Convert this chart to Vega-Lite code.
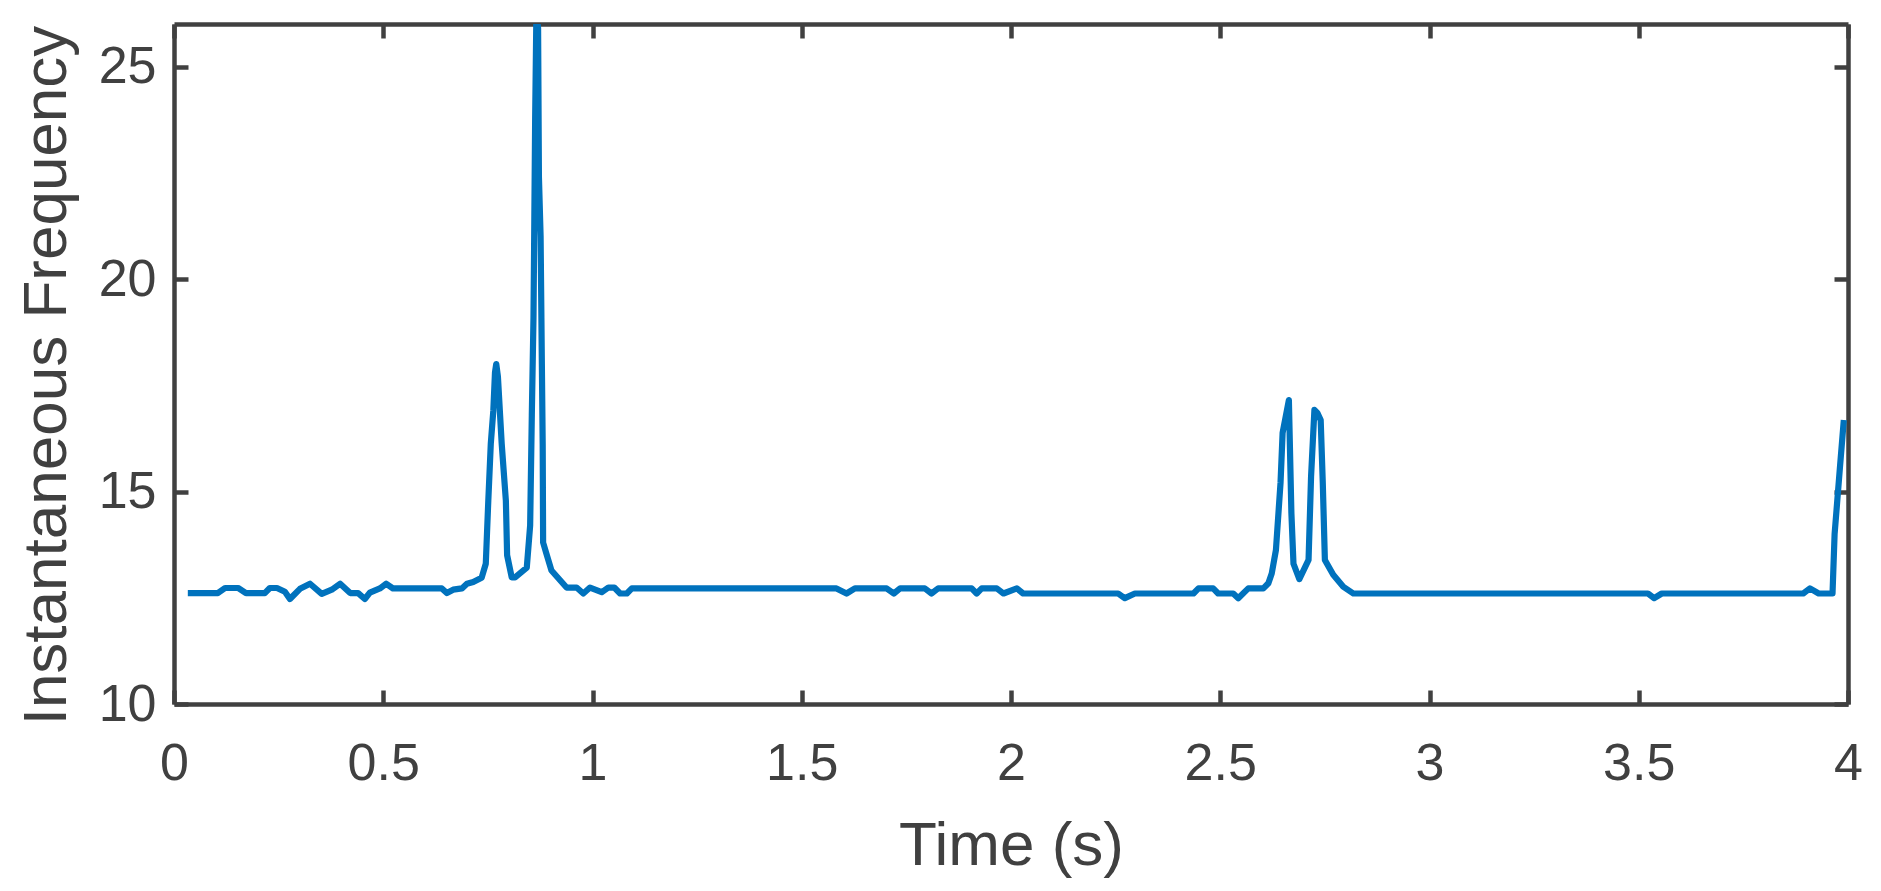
{
  "$schema": "https://vega.github.io/schema/vega-lite/v6.json",
  "autosize": {"type": "none"},
  "padding": {"left": 174, "top": 24, "right": 33, "bottom": 187},
  "width": 1674,
  "height": 680,
  "background": "white",
  "config": {
    "view": {"stroke": null},
    "axis": {
      "domainColor": "#404040",
      "domainWidth": 4.5,
      "tickColor": "#404040",
      "tickWidth": 4.5,
      "tickSize": -14,
      "grid": false,
      "labelFont": "Liberation Sans",
      "labelFontSize": 52,
      "labelColor": "#404040",
      "titleFont": "Liberation Sans",
      "titleFontSize": 62,
      "titleFontWeight": "normal",
      "titleColor": "#404040"
    }
  },
  "data": {
    "values": [
      {"t": 0.033, "f": 12.61}, {"t": 0.105, "f": 12.61}, {"t": 0.122, "f": 12.73}, {"t": 0.153, "f": 12.73},
      {"t": 0.172, "f": 12.61}, {"t": 0.217, "f": 12.61}, {"t": 0.229, "f": 12.73}, {"t": 0.246, "f": 12.73},
      {"t": 0.265, "f": 12.64}, {"t": 0.277, "f": 12.47}, {"t": 0.301, "f": 12.71}, {"t": 0.325, "f": 12.83},
      {"t": 0.353, "f": 12.59}, {"t": 0.377, "f": 12.69}, {"t": 0.397, "f": 12.83}, {"t": 0.421, "f": 12.61},
      {"t": 0.440, "f": 12.61}, {"t": 0.456, "f": 12.47}, {"t": 0.468, "f": 12.62}, {"t": 0.492, "f": 12.72},
      {"t": 0.507, "f": 12.83}, {"t": 0.523, "f": 12.72}, {"t": 0.640, "f": 12.72}, {"t": 0.652, "f": 12.61},
      {"t": 0.667, "f": 12.69}, {"t": 0.688, "f": 12.72}, {"t": 0.700, "f": 12.83}, {"t": 0.715, "f": 12.87},
      {"t": 0.735, "f": 12.97}, {"t": 0.745, "f": 13.3}, {"t": 0.751, "f": 14.78}, {"t": 0.757, "f": 16.13},
      {"t": 0.763, "f": 16.9}, {"t": 0.767, "f": 17.8}, {"t": 0.770, "f": 18.0}, {"t": 0.774, "f": 17.7}, {"t": 0.783, "f": 16.13},
      {"t": 0.793, "f": 14.78}, {"t": 0.796, "f": 13.5}, {"t": 0.807, "f": 12.98}, {"t": 0.815, "f": 12.98},
      {"t": 0.843, "f": 13.21}, {"t": 0.851, "f": 14.2}, {"t": 0.855, "f": 16.8}, {"t": 0.859, "f": 19.1},
      {"t": 0.861, "f": 21.4}, {"t": 0.863, "f": 23.8}, {"t": 0.866, "f": 26.3}, {"t": 0.870, "f": 25.9},
      {"t": 0.872, "f": 22.4}, {"t": 0.876, "f": 21.0}, {"t": 0.879, "f": 18.0}, {"t": 0.881, "f": 16.1},
      {"t": 0.882, "f": 13.8}, {"t": 0.890, "f": 13.53}, {"t": 0.902, "f": 13.14}, {"t": 0.938, "f": 12.74},
      {"t": 0.962, "f": 12.74}, {"t": 0.978, "f": 12.60}, {"t": 0.994, "f": 12.74}, {"t": 1.022, "f": 12.63},
      {"t": 1.038, "f": 12.74}, {"t": 1.052, "f": 12.74}, {"t": 1.066, "f": 12.60}, {"t": 1.082, "f": 12.60},
      {"t": 1.094, "f": 12.72}, {"t": 1.583, "f": 12.72}, {"t": 1.607, "f": 12.60}, {"t": 1.627, "f": 12.72},
      {"t": 1.703, "f": 12.72}, {"t": 1.720, "f": 12.60}, {"t": 1.735, "f": 12.72}, {"t": 1.794, "f": 12.72},
      {"t": 1.810, "f": 12.60}, {"t": 1.826, "f": 12.72}, {"t": 1.906, "f": 12.72}, {"t": 1.918, "f": 12.60},
      {"t": 1.930, "f": 12.72}, {"t": 1.966, "f": 12.72}, {"t": 1.982, "f": 12.60}, {"t": 2.014, "f": 12.72},
      {"t": 2.029, "f": 12.60}, {"t": 2.256, "f": 12.60}, {"t": 2.272, "f": 12.49}, {"t": 2.296, "f": 12.60},
      {"t": 2.436, "f": 12.60}, {"t": 2.448, "f": 12.72}, {"t": 2.483, "f": 12.72}, {"t": 2.495, "f": 12.60},
      {"t": 2.531, "f": 12.60}, {"t": 2.543, "f": 12.49}, {"t": 2.567, "f": 12.72}, {"t": 2.603, "f": 12.72},
      {"t": 2.615, "f": 12.84}, {"t": 2.623, "f": 13.07}, {"t": 2.633, "f": 13.62}, {"t": 2.644, "f": 15.2},
      {"t": 2.649, "f": 16.38}, {"t": 2.664, "f": 17.15}, {"t": 2.670, "f": 14.49}, {"t": 2.675, "f": 13.3},
      {"t": 2.689, "f": 12.94}, {"t": 2.711, "f": 13.39}, {"t": 2.717, "f": 15.35}, {"t": 2.725, "f": 16.92},
      {"t": 2.732, "f": 16.85}, {"t": 2.740, "f": 16.68}, {"t": 2.745, "f": 15.2}, {"t": 2.750, "f": 13.39},
      {"t": 2.770, "f": 13.04}, {"t": 2.794, "f": 12.76}, {"t": 2.818, "f": 12.60}, {"t": 3.522, "f": 12.60},
      {"t": 3.537, "f": 12.49}, {"t": 3.555, "f": 12.60}, {"t": 3.893, "f": 12.60}, {"t": 3.909, "f": 12.72},
      {"t": 3.930, "f": 12.60}, {"t": 3.963, "f": 12.60}, {"t": 3.968, "f": 14.0}, {"t": 3.981, "f": 15.6},
      {"t": 3.990, "f": 16.68}
    ]
  },
  "layer": [
    {
      "mark": {"type": "line", "color": "#0072BD", "strokeWidth": 6.2, "strokeJoin": "round", "clip": true},
      "encoding": {
        "x": {
          "field": "t", "type": "quantitative",
          "scale": {"domain": [0, 4], "nice": false, "zero": false},
          "axis": {"orient": "bottom", "values": [0, 0.5, 1, 1.5, 2, 2.5, 3, 3.5, 4], "format": "~g", "title": "Time (s)", "labelPadding": 48, "titlePadding": 26, "labelFlush": false}
        },
        "y": {
          "field": "f", "type": "quantitative",
          "scale": {"domain": [10, 26], "nice": false, "zero": false},
          "axis": {"orient": "left", "values": [10, 15, 20, 25], "format": "~g", "title": "Instantaneous Frequency", "labelPadding": 32, "titlePadding": 20, "titleY": 351, "labelFlush": false}
        }
      }
    },
    {
      "mark": {"type": "line", "strokeOpacity": 0, "clip": true},
      "encoding": {
        "x": {
          "field": "t", "type": "quantitative",
          "axis": {"orient": "top", "values": [0, 0.5, 1, 1.5, 2, 2.5, 3, 3.5, 4], "labels": false, "title": null}
        },
        "y": {
          "field": "f", "type": "quantitative",
          "axis": {"orient": "right", "values": [10, 15, 20, 25], "labels": false, "title": null}
        }
      }
    }
  ],
  "resolve": {"axis": {"x": "independent", "y": "independent"}}
}
